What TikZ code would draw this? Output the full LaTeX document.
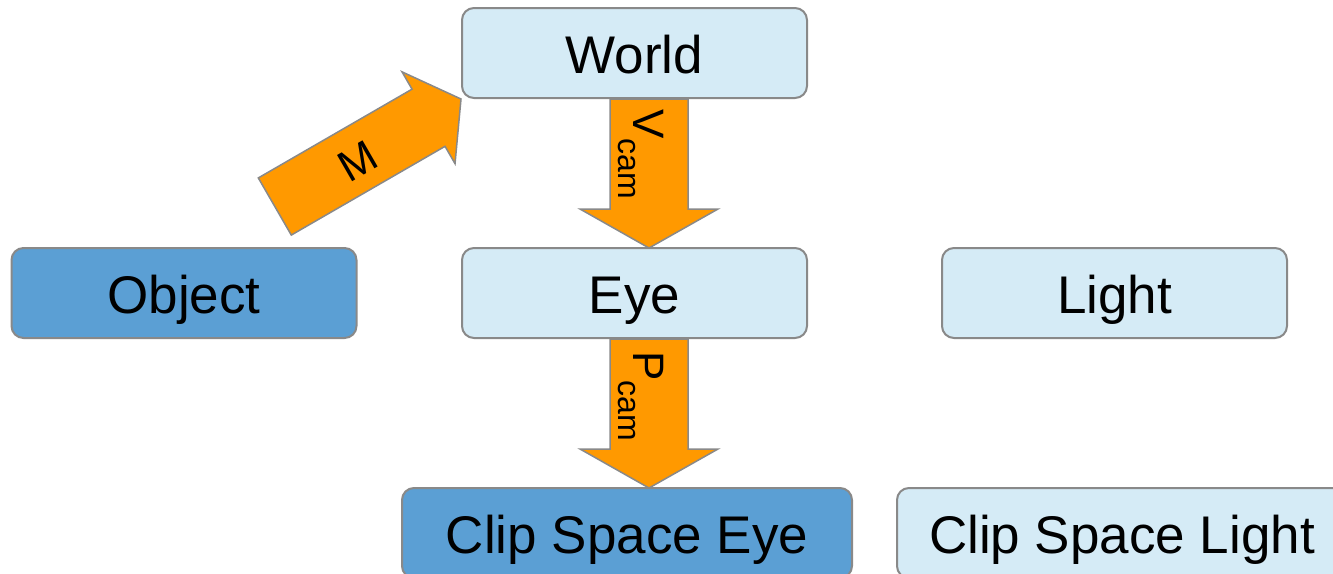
\documentclass[tikz,border=0pt]{standalone}
\usepackage{fontspec}
\setmainfont{Liberation Sans}
\usepackage{xcolor}
\usepackage{tikz}
\usetikzlibrary{positioning, calc}

\definecolor{paleblue}{HTML}{D5EBF6}
\definecolor{midblue}{HTML}{5B9FD4}
\definecolor{bordergray}{HTML}{898989}
\definecolor{arroworange}{HTML}{FF9900}

\begin{document}
\begin{tikzpicture}[x=1pt, y=-1pt,
		space/.style={draw=bordergray, line width=2pt, rounded corners=12pt, fill=paleblue,
			minimum width=345pt, minimum height=90pt, inner sep=0pt,
			font=\fontsize{53}{60}\selectfont, text height=40pt, text depth=0pt},
		mainspace/.style={space, fill=midblue},
		wide/.style={minimum width=450pt},
		blockarrow/.style={draw=bordergray, line width=1.5pt, fill=arroworange, line join=miter},
		arrowlabel/.style={inner sep=0pt, font=\fontsize{44}{48}\selectfont}]
			\clip (0,0) rectangle (1333,573);
			
			\node [space] (world) at (634.5,53) {World};
			\node [mainspace] (object) at (184,293) {Object};
			\node [space] (eye) at (634.5,293) {Eye};
			\node [space] (light) at (1114.5,293) {Light};
			\node [mainspace, wide] (clipeye) at (627,533) {Clip Space Eye};
			\node [space, wide] (cliplight) at (1122,533) {Clip Space Light};
			
			% model matrix, tip on the corner of world
			\begin{scope}[shift={(world.south west)}, rotate=30]
				\draw [blockarrow] (-215,-33) -- (-37.5,-33) -- (-37.5,-53) -- (0,0) -- (-37.5,53) -- (-37.5,33) -- (-215,33) -- cycle;
				\node [arrowlabel, rotate=30] (mlabel) at (-120,2) {M};
			\end{scope}
			
			% view matrix
			\draw [blockarrow] ([xshift=-24.5pt]world.south) -- ++(78,0) -- ++(0,110) -- ++(30,0) -- ++(-69,39) -- ++(-69,-39) -- ++(30,0) -- cycle;
			\node [arrowlabel, rotate=-90] (vlabel) at ([xshift=6.5pt, yshift=-55pt]world.south) {V{\fontsize{32}{36}\selectfont\raisebox{-15pt}{cam}}};
			
			% projection matrix
			\draw [blockarrow] ([xshift=-24.5pt]eye.south) -- ++(78,0) -- ++(0,110) -- ++(30,0) -- ++(-69,39) -- ++(-69,-39) -- ++(30,0) -- cycle;
			\node [arrowlabel, rotate=-90] (plabel) at ([xshift=6.5pt, yshift=-57pt]eye.south) {P{\fontsize{32}{36}\selectfont\raisebox{-15pt}{cam}}};
\end{tikzpicture}
\end{document}
